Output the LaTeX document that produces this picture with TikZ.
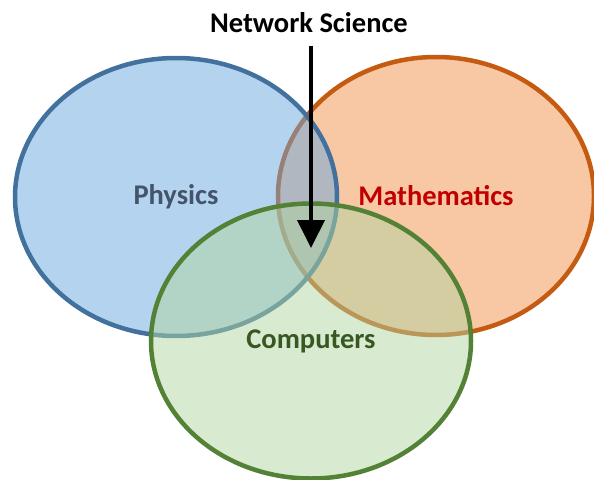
\documentclass[tikz,border=0pt]{standalone}
\usepackage{fontspec}
\setmainfont{Carlito}
\usepackage{xcolor}
\usepackage{tikz}
\usetikzlibrary{shapes.geometric,arrows.meta,positioning}
\definecolor{azul}{HTML}{6AA8DE}
\definecolor{azulborde}{HTML}{41719C}
\definecolor{naranja}{HTML}{F18F49}
\definecolor{naranjaborde}{HTML}{C55A11}
\definecolor{verde}{HTML}{B1D59F}
\definecolor{verdeborde}{HTML}{538135}
\definecolor{grisazul}{HTML}{44546A}
\definecolor{rojo}{HTML}{C00000}
\definecolor{verdeoscuro}{HTML}{385723}

\begin{document}
\begin{tikzpicture}[x=1pt,y=-1pt,
    campo/.style={ellipse,draw,line width=4.5pt,inner sep=0pt,fill opacity=0.5,text opacity=1,
                  font=\fontsize{28.5}{32}\selectfont\bfseries},
    flecha/.style={-{Triangle[length=28pt,width=27pt]},line width=4pt,black}]
  \useasboundingbox (0,0) rectangle (594,479);
  \foreach \nm/\x/\y/\w/\h/\col/\txt in {math/436/196/316/278/naranja/{\textcolor{rojo}{Mathematics}},
                                          phys/176/197/322/278/azul/{\textcolor{grisazul}{Physics}},
                                          comp/311/341/320/275/verde/{\textcolor{verdeoscuro}{Computers}}}{
    \node[campo,fill=\col,draw=\col borde,minimum width=\w pt,minimum height=\h pt] (\nm) at (\x,\y) {\txt};
  }
  \node[font=\fontsize{28.5}{32}\selectfont\bfseries] (titulo) at (309,23) {Network Science};
  \coordinate (punta) at (311,248);
  \draw[flecha] ([yshift=-9pt]punta |- titulo.south) -- (punta);
\end{tikzpicture}
\end{document}
